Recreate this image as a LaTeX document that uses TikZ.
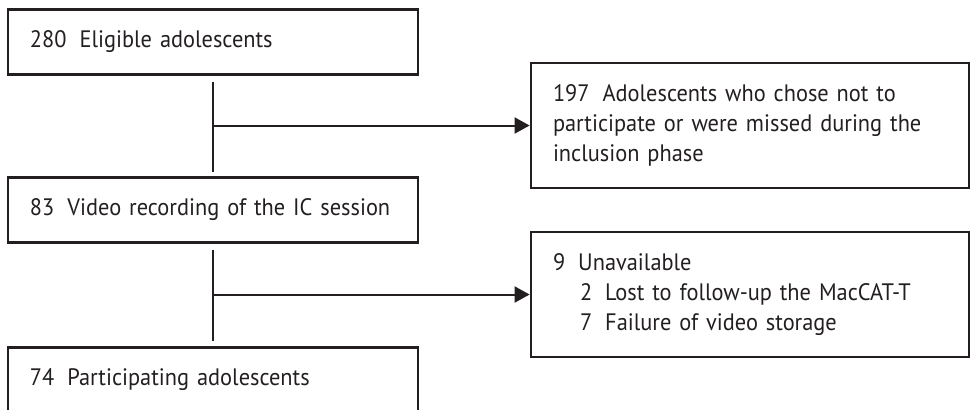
\documentclass[tikz,border=0pt]{standalone}
\usepackage{fontspec}
\setmainfont{PT Sans}[WordSpace=0.8,FakeStretch=0.94]
\usetikzlibrary{arrows.meta}
\definecolor{inkgray}{HTML}{231F20}
\newcommand{\numgap}{\hspace{6.5pt}}

\begin{document}
\begin{tikzpicture}[x=0.5pt,y=-0.5pt,
  flowbox/.style={draw=inkgray,line width=1.4pt,align=left,inner xsep=11pt,
    font=\fontsize{11.9}{15.2}\selectfont,text=inkgray},
  mainbox/.style={flowbox,text width=183pt,minimum height=32.5pt},
  sidebox/.style={flowbox,text width=197pt,minimum height=62.5pt},
  link/.style={draw=inkgray,line width=1pt},
  arrow/.style={link,-{Triangle[length=7.5pt,width=8pt]}}]
\useasboundingbox (0,0) rectangle (971,409);

\node[mainbox] (elig) at (213,42) {280\numgap Eligible adolescents};
\node[sidebox] (excl) at (750,125.5) {197\numgap Adolescents who chose not to\\
  participate or were missed during the\\ inclusion phase};
\node[mainbox] (video) at (213,210) {83\numgap Video recording of the IC session};
\node[sidebox] (unav) at (750,294.5) {9\numgap Unavailable\\
  \hspace*{13.5pt}2\numgap Lost to follow-up the MacCAT-T\\
  \hspace*{13.5pt}7\numgap Failure of video storage};
\node[mainbox] (part) at (213,380) {74\numgap Participating adolescents};

\draw[link,shorten <=3pt,shorten >=2pt] (elig) -- (video);
\draw[arrow] (elig.south |- excl.west) -- (excl.west);
\draw[link,shorten <=3pt,shorten >=2.5pt] (video) -- (part);
\draw[arrow] (video.south |- unav.west) -- (unav.west);
\end{tikzpicture}
\end{document}
